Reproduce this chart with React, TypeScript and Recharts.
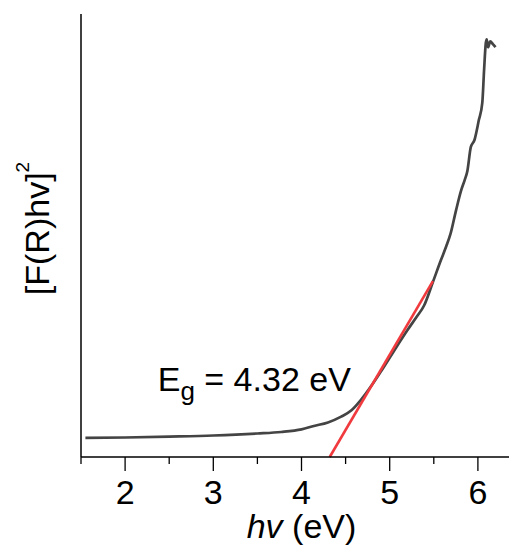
import { LineChart, Line, XAxis, YAxis, ReferenceDot } from 'recharts'

// absorption edge, Kubelka-Munk [F(R)hv]^2 vs photon energy (arb. units 0-100)
const hv = [
  1.55, 2.0, 2.5, 3.0, 3.5, 3.77, 4.0, 4.14, 4.3, 4.45, 4.57, 4.67, 4.8, 4.9, 5.05, 5.2, 5.3, 5.39, 5.49,
  5.58, 5.64, 5.69, 5.75, 5.81, 5.85, 5.88, 5.92, 5.96, 6.01, 6.05, 6.07, 6.09, 6.1, 6.115, 6.14, 6.17, 6.2,
]
const fr = [
  4.3, 4.4, 4.6, 4.85, 5.3, 5.65, 6.25, 7.0, 7.8, 9.1, 10.6, 12.8, 16.3, 19.3, 24.0, 28.6, 31.5, 34.2, 39.5,
  44.4, 47.5, 50.4, 55.5, 60.2, 62.5, 64.5, 70.0, 71.5, 76.0, 80.0, 87.3, 93.5, 94.3, 92.5, 93.8, 93.2, 92.5,
]

// linear fit of the edge, intercept at Eg
const fitHv = [4.32, 5.49]
const fitVal = [0, 39.7]

const xTicks = [1.5, 2, 2.5, 3, 3.5, 4, 4.5, 5, 5.5, 6, 6.5]

const curve = hv.map((x, i) => ({ hv: x, v: fr[i] }))
const fit = fitHv.map((x, i) => ({ hv: x, v: fitVal[i] }))

const font = 'Liberation Sans, Arial, sans-serif'

const XTick = (props: any) => {
  const { x, y, payload } = props
  const major = Number.isInteger(payload.value)
  return (
    <g>
      <line x1={x} y1={y} x2={x} y2={y + (major ? 14 : 7)} stroke="#000" strokeWidth={1.3} />
      {major && (
        <text x={x} y={y + 23} dy="0.71em" textAnchor="middle" fontSize={34} fontFamily={font} fill="#000">
          {payload.value}
        </text>
      )}
    </g>
  )
}

const XLabel = (props: any) => {
  const { viewBox } = props
  const cx = viewBox.x + viewBox.width / 2
  return (
    <text x={cx} y={530} textAnchor="middle" fontSize={34} fontFamily={font} fill="#000">
      <tspan fontStyle="italic">hv</tspan>
      <tspan> (eV)</tspan>
    </text>
  )
}

const YLabel = (props: any) => {
  const { viewBox } = props
  const cy = viewBox.y + viewBox.height / 2 - 7
  return (
    <text
      x={41}
      y={cy}
      transform={`rotate(-90 41 ${cy})`}
      textAnchor="middle"
      fontSize={34}
      fontFamily={font}
      fill="#000"
    >
      [F(R)hv]
      <tspan fontSize={19} dy={-20}>
        2
      </tspan>
    </text>
  )
}

const EgLabel = (props: any) => {
  const { viewBox } = props
  return (
    <text x={viewBox.x} y={viewBox.y} fontSize={34} fontFamily={font} fill="#000">
      E
      <tspan fontSize={26} dy={9}>
        g
      </tspan>
      <tspan dy={-9}> = 4.32 eV</tspan>
    </text>
  )
}

export default function App() {
  return (
    <div style={{ width: 509, overflow: 'hidden' }}>
      <LineChart width={520} height={541} margin={{ top: 6, right: 6, bottom: 0, left: 0 }}>
        <XAxis
          type="number"
          dataKey="hv"
          domain={[1.5, 6.5]}
          ticks={xTicks}
          allowDataOverflow
          height={92}
          axisLine={{ stroke: '#000', strokeWidth: 1.5 }}
          tickLine={false}
          tickSize={0}
          tickMargin={0}
          tick={<XTick />}
          interval={0}
          label={<XLabel />}
        />
        <XAxis
          xAxisId="top"
          orientation="top"
          type="number"
          dataKey="hv"
          domain={[1.5, 6.5]}
          height={0}
          tick={false}
          tickLine={false}
          axisLine={{ stroke: '#000', strokeWidth: 1.5 }}
        />
        <YAxis
          type="number"
          domain={[0, 100]}
          width={73}
          tick={false}
          tickLine={false}
          axisLine={{ stroke: '#000', strokeWidth: 1.5 }}
          label={<YLabel />}
        />
        <Line
          data={curve}
          dataKey="v"
          type="monotone"
          stroke="#444444"
          strokeWidth={2.7}
          dot={false}
          isAnimationActive={false}
        />
        <Line
          data={fit}
          dataKey="v"
          type="linear"
          stroke="#f03a3e"
          strokeWidth={2.6}
          dot={false}
          isAnimationActive={false}
        />
        <ReferenceDot x={2.37} y={15} r={0} stroke="none" fill="none" label={<EgLabel />} />
      </LineChart>
    </div>
  )
}
